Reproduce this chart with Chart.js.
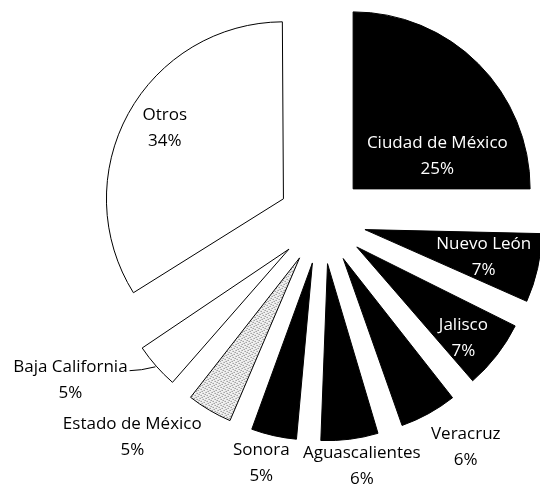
<!DOCTYPE html>
<html>
<head>
<meta charset="utf-8">
<script src="https://cdn.jsdelivr.net/npm/chart.js@4.4.1/dist/chart.umd.min.js"></script>
<style>
    html, body { margin: 0; padding: 0; background: #fff; }
    #wrap { width: 540px; height: 487px; }
</style>
</head>
<body>
<div id="wrap"><canvas id="pie" width="540" height="487"></canvas></div>
<script>
// === DATA ===
const estados = ['Ciudad de México', 'Nuevo León', 'Jalisco', 'Veracruz', 'Aguascalientes', 'Sonora', 'Estado de México', 'Baja California', 'Otros'];
const porcentajes = [25, 7, 7, 6, 6, 5, 5, 5, 34];

// === LAYOUT ===
const PIE_RADIUS = 177;
const SLICE_OFFSET = 176;          // Chart.js v4 draws offset / 4 -> 44px
const FONT = '17px "Open Sans"';
const LINE_GAP = 26;

// label anchor per slice: degrees past the slice's mid angle, distance from pie centre
const labelShift = [15.9, 0.4, 2, -3.5, -2, 1.4, 10.6, 9, 1.4];
const labelDist = [132, 166, 184, 269, 249, 251, 288, 298, 182];
const whiteText = [true, true, true, false, false, false, false, false, false];

// light stipple for Estado de México
function makeStipple() {
    const c = document.createElement('canvas');
    c.width = 6;
    c.height = 6;
    const g = c.getContext('2d');
    g.fillStyle = '#f2f2f2';
    g.fillRect(0, 0, 6, 6);
    g.fillStyle = '#666';
    [[0, 0], [3, 1], [1, 3], [4, 4], [5, 2], [2, 5]].forEach(([x, y]) => g.fillRect(x, y, 1, 1));
    return g.createPattern(c, 'repeat');
}

const colores = ['#000', '#000', '#000', '#000', '#000', '#000', makeStipple(), '#fff', '#fff'];

// v4 grows narrow offset slices by offset * (1 - sin(circumference)); undo that so every slice keeps one radius
const keepRadius = {
    id: 'keepRadius',
    beforeDatasetsDraw(chart) {
        chart.getDatasetMeta(0).data.forEach(arc => {
            const grow = (SLICE_OFFSET / 4) * (1 - Math.sin(Math.min(Math.PI, arc.circumference)));
            arc.outerRadius = PIE_RADIUS - grow;
        });
    }
};

const pieLabels = {
    id: 'pieLabels',
    afterDatasetsDraw(chart) {
        const ctx = chart.ctx;
        const arcs = chart.getDatasetMeta(0).data;
        ctx.save();
        ctx.font = FONT;
        ctx.textAlign = 'center';
        ctx.textBaseline = 'middle';

        arcs.forEach((arc, i) => {
            const mid = (arc.startAngle + arc.endAngle) / 2;
            const a = mid + labelShift[i] * Math.PI / 180;
            const lx = arc.x + Math.cos(a) * labelDist[i];
            const ly = arc.y + Math.sin(a) * labelDist[i];
            ctx.fillStyle = whiteText[i] ? '#fff' : '#000';
            ctx.fillText(estados[i], lx, ly - LINE_GAP / 2);
            ctx.fillText(porcentajes[i] + '%', lx, ly + LINE_GAP / 2);

            // Baja California gets a short leader back to its slice
            if (estados[i] === 'Baja California') {
                const off = SLICE_OFFSET / 4;
                const w = ctx.measureText(estados[i]).width;
                const sx = lx + w / 2 + 2;
                const sy = ly - LINE_GAP / 2 + 4;
                const ex = arc.x + Math.cos(mid) * off + Math.cos(mid) * (PIE_RADIUS + 1);
                const ey = arc.y + Math.sin(mid) * off + Math.sin(mid) * (PIE_RADIUS + 1);
                ctx.strokeStyle = '#000';
                ctx.lineWidth = 1;
                ctx.beginPath();
                ctx.moveTo(sx, sy);
                ctx.lineTo(sx + 12, sy - 1);
                ctx.lineTo(ex, ey);
                ctx.stroke();
            }
        });
        ctx.restore();
    }
};

new Chart(document.getElementById('pie'), {
    type: 'pie',
    data: {
        labels: estados,
        datasets: [{
            data: porcentajes,
            backgroundColor: colores,
            borderColor: '#000',
            borderWidth: 1,
            offset: SLICE_OFFSET,
            radius: PIE_RADIUS,
            clip: false
        }]
    },
    options: {
        responsive: false,
        animation: false,
        layout: { padding: { left: 104, right: 0, top: 0, bottom: 47 } },
        plugins: {
            legend: { display: false },
            tooltip: { enabled: false }
        }
    },
    plugins: [keepRadius, pieLabels]
});
</script>
</body>
</html>
